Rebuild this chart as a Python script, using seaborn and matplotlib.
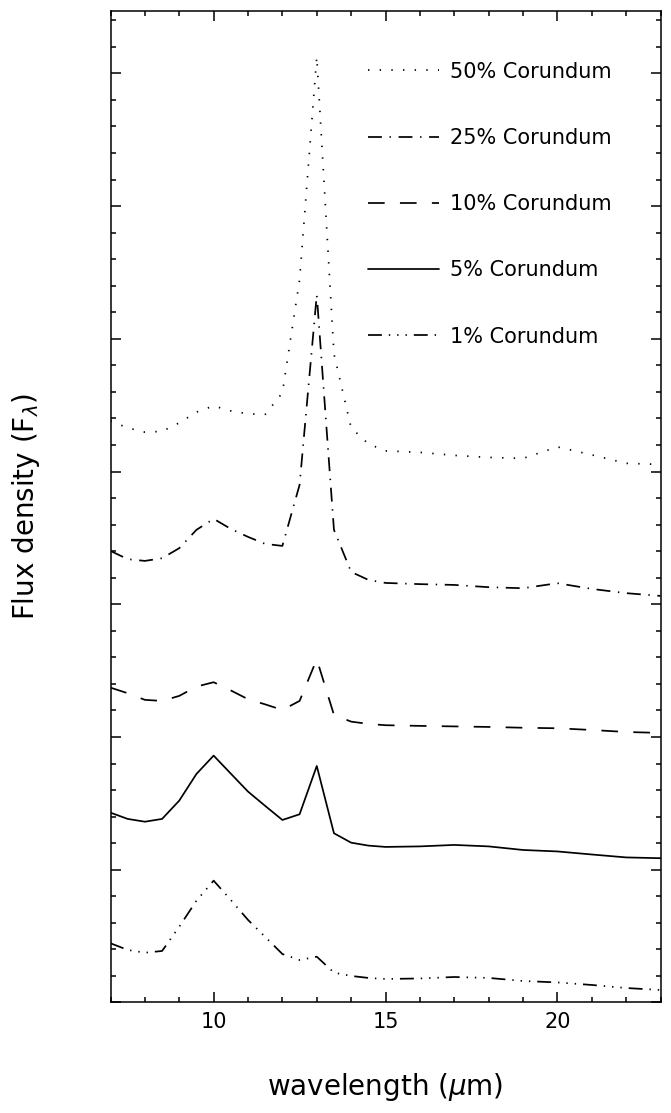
import matplotlib
matplotlib.use("Agg")
import matplotlib.pyplot as plt
import numpy as np
import pandas as pd
import seaborn as sns
from matplotlib.ticker import MultipleLocator

# ---- data ----
wavelength = [7, 7.5, 8, 8.5, 9, 9.5, 10, 10.5, 11, 11.5, 12, 12.5, 13, 13.5,
              14, 14.5, 15, 16, 17, 18, 19, 20, 21, 22, 23]

flux_50 = [4.382, 4.329, 4.297, 4.303, 4.367, 4.448, 4.495, 4.457, 4.435, 4.431,
           4.593, 5.445, 7.125, 4.887, 4.329, 4.209, 4.156, 4.145, 4.122, 4.107,
           4.099, 4.186, 4.126, 4.062, 4.054]
flux_25 = [3.402, 3.340, 3.327, 3.347, 3.423, 3.561, 3.644, 3.568, 3.508, 3.455,
           3.440, 3.900, 5.332, 3.561, 3.244, 3.184, 3.161, 3.152, 3.146, 3.129,
           3.121, 3.159, 3.116, 3.084, 3.063]
flux_10 = [2.372, 2.330, 2.280, 2.272, 2.310, 2.380, 2.413, 2.351, 2.285, 2.246,
           2.204, 2.272, 2.586, 2.167, 2.116, 2.099, 2.089, 2.084, 2.080, 2.076,
           2.070, 2.066, 2.053, 2.038, 2.031]
flux_5 = [1.430, 1.383, 1.362, 1.383, 1.521, 1.722, 1.860, 1.724, 1.589, 1.481,
          1.375, 1.418, 1.782, 1.275, 1.204, 1.182, 1.172, 1.176, 1.187, 1.176,
          1.149, 1.138, 1.115, 1.093, 1.087]
flux_1 = [0.446, 0.396, 0.375, 0.388, 0.571, 0.767, 0.918, 0.772, 0.622, 0.494,
          0.365, 0.320, 0.345, 0.225, 0.200, 0.185, 0.177, 0.181, 0.192, 0.185,
          0.162, 0.151, 0.132, 0.109, 0.094]

labels = ["50% Corundum", "25% Corundum", "10% Corundum", "5% Corundum", "1% Corundum"]
series = [flux_50, flux_25, flux_10, flux_5, flux_1]

# ---- style ----
sns.set_theme(style="ticks")
plt.rcParams["font.family"] = ["DejaVu Sans"]
plt.rcParams["lines.scale_dashes"] = False

styles = [
    (0, (1.0, 7.4)),                                   # dotted
    (0, (10, 5.5, 1, 5.5)),                            # dash-dot
    (0, (12, 11)),                                     # dashed
    "-",                                               # solid
    (0, (10, 5, 1, 5, 1, 5, 1, 5)),                    # dash-dot-dot-dot
]

fig = plt.figure(figsize=(6.71, 11.13), dpi=100)
ax = fig.add_axes([0.1647, 0.0993, 0.8197, 0.8908])

for lab, ys, ls in zip(labels, series, styles):
    df = pd.DataFrame({"wavelength": wavelength, "flux": ys})
    sns.lineplot(data=df, x="wavelength", y="flux", ax=ax, color="black",
                 linewidth=1.25, linestyle=ls, label=lab, sort=False,
                 estimator=None)

ax.set_xlim(7, 23)
ax.set_ylim(0, 7.47)

ax.xaxis.set_major_locator(MultipleLocator(5))
ax.xaxis.set_minor_locator(MultipleLocator(1))
ax.yaxis.set_major_locator(MultipleLocator(1))
ax.yaxis.set_minor_locator(MultipleLocator(0.2))

ax.tick_params(which="both", direction="in", top=True, right=True,
               left=True, bottom=True, color="black", width=1.1)
ax.tick_params(which="major", length=7.2)
ax.tick_params(which="minor", length=3.6)
ax.tick_params(axis="x", which="major", labelsize=15, pad=7, labelcolor="black")
ax.tick_params(axis="y", labelleft=False)

for sp in ax.spines.values():
    sp.set_visible(True)
    sp.set_color("black")
    sp.set_linewidth(1.1)

ax.set_xlabel(r"wavelength ($\mu$m)", fontsize=20, color="black", labelpad=28)
ax.set_ylabel(r"Flux density (F$_\lambda$)", fontsize=20, color="black", labelpad=46)

leg = ax.legend(loc="upper left", bbox_to_anchor=(0.468, 0.949), frameon=False,
                fontsize=15, handlelength=3.4, handletextpad=0.55,
                labelspacing=2.22, borderpad=0, borderaxespad=0)
for t in leg.get_texts():
    t.set_color("black")

fig.savefig("out.png", dpi=100, facecolor="white")
